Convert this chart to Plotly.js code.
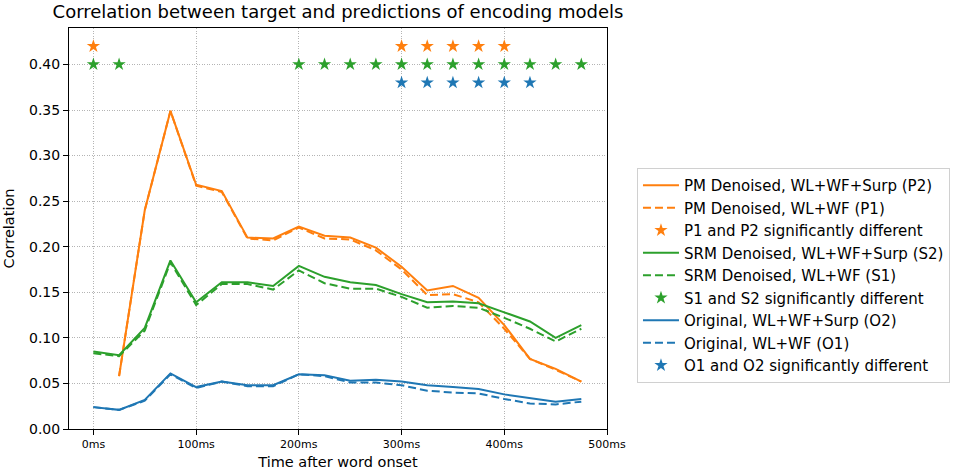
<!DOCTYPE html>
<html>
<head>
<meta charset="utf-8">
<script src="https://cdn.plot.ly/plotly-3.0.1.min.js"></script>
<style>
  body { margin: 0; background: #fff; }
  #myDiv { width: 957px; height: 472px; }
</style>
</head>
<body>
<div id="myDiv"></div>
<script>
// time after word onset (ms)
var timesMs = [0, 25, 50, 75, 100, 125, 150, 175, 200, 225, 250, 275, 300, 325, 350, 375, 400, 425, 450, 475];

// PM denoised
var p2 = [null, 0.058, 0.240, 0.349, 0.268, 0.261, 0.210, 0.209, 0.222, 0.212, 0.210, 0.199, 0.178, 0.152, 0.157, 0.144, 0.114, 0.077, 0.066, 0.052];
var p1 = [null, 0.058, 0.240, 0.349, 0.267, 0.260, 0.209, 0.207, 0.221, 0.209, 0.208, 0.196, 0.175, 0.147, 0.148, 0.139, 0.110, 0.077, 0.065, 0.052];
// SRM denoised
var s2 = [0.085, 0.081, 0.111, 0.185, 0.139, 0.161, 0.161, 0.157, 0.179, 0.167, 0.161, 0.158, 0.148, 0.139, 0.140, 0.138, 0.128, 0.118, 0.100, 0.114];
var s1 = [0.083, 0.080, 0.108, 0.183, 0.136, 0.159, 0.159, 0.153, 0.174, 0.160, 0.154, 0.154, 0.145, 0.133, 0.135, 0.133, 0.122, 0.110, 0.096, 0.110];
// original
var o2 = [0.024, 0.021, 0.032, 0.061, 0.046, 0.052, 0.048, 0.048, 0.060, 0.059, 0.053, 0.054, 0.052, 0.048, 0.046, 0.044, 0.038, 0.034, 0.030, 0.033];
var o1 = [0.024, 0.021, 0.031, 0.060, 0.045, 0.052, 0.047, 0.047, 0.060, 0.058, 0.051, 0.051, 0.048, 0.042, 0.040, 0.039, 0.033, 0.028, 0.027, 0.030];

// significance markers
var pStarTimes = [0, 300, 325, 350, 375, 400];
var pStarY = [0.42, 0.42, 0.42, 0.42, 0.42, 0.42];
var sStarTimes = [0, 25, 200, 225, 250, 275, 300, 325, 350, 375, 400, 425, 450, 475];
var sStarY = [0.40, 0.40, 0.40, 0.40, 0.40, 0.40, 0.40, 0.40, 0.40, 0.40, 0.40, 0.40, 0.40, 0.40];
var oStarTimes = [300, 325, 350, 375, 400, 425];
var oStarY = [0.38, 0.38, 0.38, 0.38, 0.38, 0.38];

var xTickVals = [0, 100, 200, 300, 400, 500];
var xTickText = ['0ms', '100ms', '200ms', '300ms', '400ms', '500ms'];

var orange = '#ff7f0e', green = '#2ca02c', blue = '#1f77b4';
var dash = '8px,4px';

function lineTrace(y, name, color, dashed) {
  return {
    x: timesMs, y: y, name: name, type: 'scatter', mode: 'lines',
    line: { color: color, width: 2, dash: dashed ? dash : 'solid' }
  };
}
function starTrace(x, y, name, color) {
  return {
    x: x, y: y, name: name, type: 'scatter', mode: 'markers',
    marker: { symbol: 'star', size: 10, color: color, line: { width: 0 } }
  };
}

var data = [
  lineTrace(p2, 'PM Denoised, WL+WF+Surp (P2)', orange, false),
  lineTrace(p1, 'PM Denoised, WL+WF (P1)', orange, true),
  starTrace(pStarTimes, pStarY, 'P1 and P2 significantly different', orange),
  lineTrace(s2, 'SRM Denoised, WL+WF+Surp (S2)', green, false),
  lineTrace(s1, 'SRM Denoised, WL+WF (S1)', green, true),
  starTrace(sStarTimes, sStarY, 'S1 and S2 significantly different', green),
  lineTrace(o2, 'Original, WL+WF+Surp (O2)', blue, false),
  lineTrace(o1, 'Original, WL+WF (O1)', blue, true),
  starTrace(oStarTimes, oStarY, 'O1 and O2 significantly different', blue)
];

var gridStyle = { showgrid: true, gridcolor: '#b4b4b4', griddash: '1px,1.5px', gridwidth: 1 };

var layout = {
  width: 957,
  height: 472,
  margin: { l: 69, r: 350, t: 28, b: 43, autoexpand: false },
  paper_bgcolor: '#fff',
  plot_bgcolor: '#fff',
  font: { family: 'DejaVu Sans', color: '#000' },
  showlegend: true,
  title: {
    text: 'Correlation between target and predictions of encoding models',
    font: { size: 18, color: '#000' },
    x: 0.5, xref: 'paper', xanchor: 'center',
    y: 0.975, yref: 'container', yanchor: 'middle'
  },
  xaxis: Object.assign({
    range: [-23.75, 500],
    tickmode: 'array',
    tickvals: xTickVals,
    ticktext: xTickText,
    tickfont: { size: 11 },
    ticks: 'outside', ticklen: 5, tickcolor: '#000',
    showline: true, mirror: true, linecolor: '#000', linewidth: 1,
    zeroline: false,
    title: { text: 'Time after word onset', font: { size: 14.5 }, standoff: 6 }
  }, gridStyle),
  yaxis: Object.assign({
    range: [0, 0.44],
    dtick: 0.05,
    tickformat: '.2f',
    tickfont: { size: 14 },
    ticks: 'outside', ticklen: 5, tickcolor: '#000',
    showline: true, mirror: true, linecolor: '#000', linewidth: 1,
    zeroline: false,
    title: { text: 'Correlation', font: { size: 14.5 }, standoff: 10 }
  }, gridStyle),
  legend: {
    xref: 'container', x: 0.6656, xanchor: 'left',
    yref: 'container', y: 0.644, yanchor: 'top',
    bgcolor: '#fff',
    bordercolor: '#d0d0d0', borderwidth: 1,
    font: { size: 15 },
    itemwidth: 36,
    traceorder: 'normal'
  }
};

Plotly.newPlot('myDiv', data, layout, { displayModeBar: false, staticPlot: true });
</script>
</body>
</html>
